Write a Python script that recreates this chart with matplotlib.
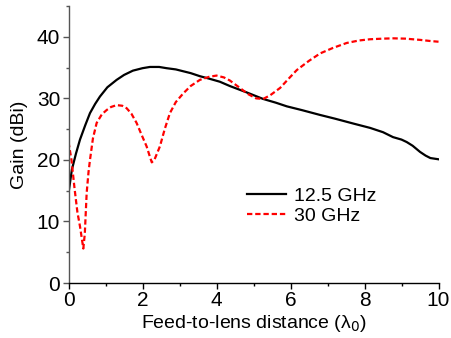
import matplotlib
matplotlib.use("Agg")
import matplotlib.pyplot as plt
from matplotlib.ticker import MultipleLocator

plt.rcParams['font.family'] = ['Liberation Sans', 'DejaVu Sans']

x_12 = [0.0, 0.09, 0.2, 0.31, 0.45, 0.58, 0.72, 0.85, 1.05, 1.3, 1.5, 1.74, 2.0, 2.2, 2.45, 2.65, 2.9, 3.1, 3.3, 3.55, 3.8, 4.09, 4.36, 4.8, 5.26, 5.6, 5.9, 6.3, 6.8, 7.2, 7.7, 8.15, 8.5, 8.77, 9.0, 9.14, 9.3, 9.5, 9.65, 9.78, 10.0]
y_12 = [14.6, 18.4, 21.0, 23.3, 25.6, 27.6, 29.1, 30.3, 31.8, 33.0, 33.8, 34.5, 34.9, 35.1, 35.1, 34.9, 34.7, 34.4, 34.1, 33.6, 33.2, 32.7, 32.0, 31.0, 29.9, 29.3, 28.7, 28.1, 27.3, 26.7, 25.9, 25.2, 24.5, 23.7, 23.3, 22.9, 22.3, 21.3, 20.7, 20.3, 20.1]

x_30 = [0.0, 0.08, 0.16, 0.24, 0.31, 0.37, 0.4, 0.44, 0.49, 0.54, 0.58, 0.66, 0.76, 0.9, 1.03, 1.15, 1.3, 1.45, 1.57, 1.7, 1.84, 1.98, 2.11, 2.2, 2.25, 2.32, 2.47, 2.6, 2.74, 2.9, 3.1, 3.3, 3.55, 3.8, 4.0, 4.2, 4.36, 4.63, 4.85, 5.07, 5.26, 5.45, 5.72, 5.95, 6.17, 6.5, 6.8, 7.15, 7.52, 7.85, 8.15, 8.5, 8.78, 9.1, 9.5, 9.8, 10.0]
y_30 = [22.9, 20.0, 15.5, 11.5, 9.2, 6.8, 5.6, 8.0, 14.6, 18.0, 20.0, 23.5, 26.0, 27.4, 28.1, 28.6, 28.9, 28.8, 28.4, 27.5, 26.0, 24.0, 22.2, 20.5, 19.6, 20.0, 22.2, 25.0, 27.6, 29.4, 30.8, 32.0, 33.0, 33.5, 33.7, 33.4, 32.9, 31.7, 30.7, 30.0, 29.9, 30.5, 31.7, 33.2, 34.6, 36.1, 37.3, 38.2, 39.0, 39.4, 39.6, 39.7, 39.75, 39.7, 39.5, 39.3, 39.2]

labels = ['12.5 GHz', '30 GHz']

fig = plt.figure(figsize=(4.52, 3.38), dpi=100)
ax = fig.add_axes([0.1516, 0.1627, 0.8186, 0.8195])

ax.plot(x_12, y_12, color='black', lw=1.6, label=labels[0])
ax.plot(x_30, y_30, color='#ff0000', lw=1.6, linestyle=(0, (2.4, 1.3)), label=labels[1])

ax.set_xlim(0, 10)
ax.set_ylim(0, 45)
ax.xaxis.set_major_locator(MultipleLocator(2))
ax.xaxis.set_minor_locator(MultipleLocator(1))
ax.yaxis.set_major_locator(MultipleLocator(10))
ax.yaxis.set_minor_locator(MultipleLocator(5))

for s in ['top', 'right']:
    ax.spines[s].set_visible(False)
ax.spines['left'].set_color('#555555')
ax.spines['bottom'].set_color('black')
ax.spines['left'].set_linewidth(1.0)
ax.spines['bottom'].set_linewidth(1.0)

ax.tick_params(axis='both', which='major', direction='out', length=4, width=1, labelsize=15, pad=2)
ax.tick_params(axis='both', which='minor', direction='out', length=2.5, width=1)
ax.tick_params(axis='y', which='both', color='#555555')

ax.set_xlabel('Feed-to-lens distance (λ$_0$)', fontsize=14, labelpad=2)
ax.set_ylabel('Gain (dBi)', fontsize=14, labelpad=6)

ax.legend(loc='upper left', bbox_to_anchor=(0.482, 0.345), frameon=False, fontsize=14,
          handlelength=2.0, handletextpad=0.4, labelspacing=0.12, borderpad=0, borderaxespad=0)

fig.savefig('out.png', dpi=100)
